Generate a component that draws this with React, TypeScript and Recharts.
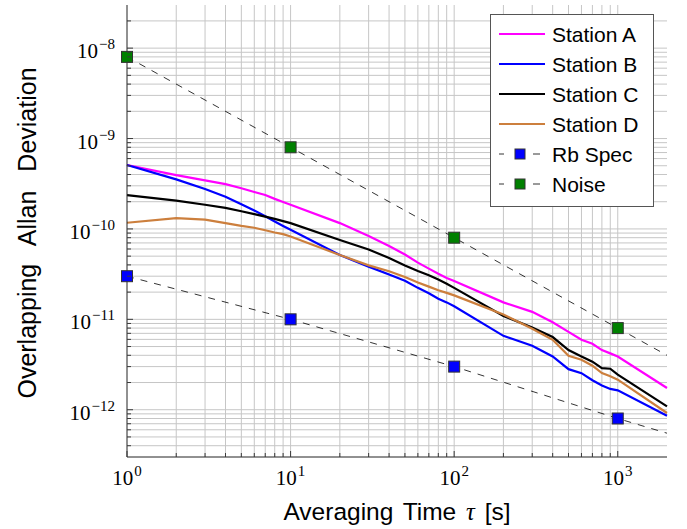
import React from "react";
import { LineChart, Line, XAxis, YAxis, ReferenceLine, Legend } from "recharts";

// averaging times (s) of the station curves
const tau = [1, 2, 3, 4, 5, 6, 7, 8, 9, 10, 20, 30, 40, 50, 60, 70, 80, 90, 100, 200, 300, 400, 500, 600, 700, 800, 900, 1000, 2000];

const stationA = [5.1e-10, 3.94e-10, 3.45e-10, 3.13e-10, 2.82e-10, 2.56e-10, 2.37e-10, 2.15e-10, 1.99e-10, 1.85e-10, 1.16e-10, 8.35e-11, 6.48e-11, 5.22e-11, 4.24e-11, 3.64e-11, 3.19e-11, 2.87e-11, 2.66e-11, 1.54e-11, 1.21e-11, 9.27e-12, 7.26e-12, 5.94e-12, 5.37e-12, 4.57e-12, 4.2e-12, 3.88e-12, 1.74e-12];
const stationB = [5.1e-10, 3.53e-10, 2.76e-10, 2.27e-10, 1.87e-10, 1.6e-10, 1.38e-10, 1.21e-10, 1.08e-10, 9.8e-11, 5.15e-11, 3.83e-11, 3.14e-11, 2.67e-11, 2.23e-11, 1.94e-11, 1.69e-11, 1.54e-11, 1.395e-11, 6.57e-12, 5.1e-12, 3.88e-12, 2.81e-12, 2.54e-12, 2.12e-12, 1.85e-12, 1.7e-12, 1.64e-12, 8.6e-13];
const stationC = [2.37e-10, 2.06e-10, 1.85e-10, 1.71e-10, 1.57e-10, 1.46e-10, 1.37e-10, 1.29e-10, 1.22e-10, 1.16e-10, 7.54e-11, 5.93e-11, 4.77e-11, 3.95e-11, 3.43e-11, 3.08e-11, 2.75e-11, 2.48e-11, 2.23e-11, 1.09e-11, 8.14e-12, 6.37e-12, 4.57e-12, 3.88e-12, 3.4e-12, 2.89e-12, 2.84e-12, 2.44e-12, 1.09e-12];
const stationD = [1.17e-10, 1.32e-10, 1.27e-10, 1.16e-10, 1.08e-10, 1.03e-10, 9.68e-11, 9.13e-11, 8.76e-11, 8.24e-11, 5.15e-11, 3.95e-11, 3.4e-11, 2.94e-11, 2.56e-11, 2.3e-11, 2.1e-11, 1.96e-11, 1.84e-11, 1.13e-11, 7.86e-12, 5.94e-12, 3.95e-12, 3.57e-12, 3.07e-12, 2.54e-12, 2.35e-12, 2.15e-12, 9.2e-13];

// reference lines: marks at the first four points, dashed line runs on to the edge
const refTau = [1, 10, 100, 1000, 2000];
const rbSpec = [3e-11, 1e-11, 3e-12, 8e-13, 5.5e-13];
const noise = [8e-9, 8e-10, 8e-11, 8e-12, 4e-12];
const markedPoints = 4;

const xMajor = [1, 10, 100, 1000];
const xMinor = [2, 3, 4, 5, 6, 7, 8, 9, 20, 30, 40, 50, 60, 70, 80, 90, 200, 300, 400, 500, 600, 700, 800, 900];
const yMajor = [1e-12, 1e-11, 1e-10, 1e-9, 1e-8];
const yMinor = [
  4e-13, 5e-13, 6e-13, 7e-13, 8e-13, 9e-13,
  2e-12, 3e-12, 4e-12, 5e-12, 6e-12, 7e-12, 8e-12, 9e-12,
  2e-11, 3e-11, 4e-11, 5e-11, 6e-11, 7e-11, 8e-11, 9e-11,
  2e-10, 3e-10, 4e-10, 5e-10, 6e-10, 7e-10, 8e-10, 9e-10,
  2e-9, 3e-9, 4e-9, 5e-9, 6e-9, 7e-9, 8e-9, 9e-9,
  2e-8,
];

const toRows = (xs: number[], ys: number[]) => xs.map((t, i) => ({ tau: t, v: ys[i] }));

const stations = [
  { name: "Station A", color: "#ff00ff", values: stationA },
  { name: "Station B", color: "#0000ff", values: stationB },
  { name: "Station C", color: "#000000", values: stationC },
  { name: "Station D", color: "#cc7f3d", values: stationD },
];
const refs = [
  { name: "Rb Spec", fill: "#0000ff", values: rbSpec },
  { name: "Noise", fill: "#008000", values: noise },
];

const GRID = "#c6c6c6";
const TICK = "#3a3a3a";
const SERIF = "'Liberation Serif', 'DejaVu Serif', serif";
const SANS = "'Liberation Sans', Arial, sans-serif";

const isMajor = (v: number) => Math.abs(Math.log10(v) - Math.round(Math.log10(v))) < 1e-6;
const expText = (v: number) => {
  const e = Math.round(Math.log10(v));
  return e < 0 ? "\u2212" + Math.abs(e) : String(e);
};

function BottomTick(props: any) {
  const { x, y, payload } = props;
  const major = isMajor(payload.value);
  return (
    <g>
      <line x1={x} x2={x} y1={y} y2={y - (major ? 6 : 4)} stroke={TICK} />
      {major && (
        <text x={x} y={y + 28} textAnchor="middle" fontFamily={SERIF} fontSize={21} fill="#000">
          10<tspan dx={1} dy={-9} fontSize={15}>{expText(payload.value)}</tspan>
        </text>
      )}
    </g>
  );
}

function TopTick(props: any) {
  const { x, y, payload } = props;
  const major = isMajor(payload.value);
  return <line x1={x} x2={x} y1={y} y2={y + (major ? 6 : 4)} stroke={TICK} />;
}

function LeftTick(props: any) {
  const { x, y, payload } = props;
  const major = isMajor(payload.value);
  return (
    <g>
      <line x1={x} x2={x + (major ? 6 : 4)} y1={y} y2={y} stroke={TICK} />
      {major && (
        <text x={x - 12} y={y + 10} textAnchor="end" fontFamily={SERIF} fontSize={21} fill="#000">
          10<tspan dx={1} dy={-9} fontSize={15}>{expText(payload.value)}</tspan>
        </text>
      )}
    </g>
  );
}

function RightTick(props: any) {
  const { x, y, payload } = props;
  const major = isMajor(payload.value);
  return <line x1={x} x2={x - (major ? 6 : 4)} y1={y} y2={y} stroke={TICK} />;
}

function SquareDot(fill: string) {
  return (props: any) => {
    const { cx, cy, index } = props;
    if (index >= markedPoints || cx == null || cy == null) return <g key={"d" + index} />;
    return <rect key={"d" + index} x={cx - 5.5} y={cy - 5.5} width={11} height={11} fill={fill} stroke="#333" strokeWidth={1} />;
  };
}

function LegendBox() {
  const rowY = (i: number) => 20 + i * 30;
  return (
    <svg width={164} height={193} style={{ display: "block" }}>
      <rect x={0.5} y={0.5} width={163} height={192} fill="#fff" stroke="#555" />
      {stations.map((s, i) => (
        <g key={s.name}>
          <line x1={9} x2={55} y1={rowY(i)} y2={rowY(i)} stroke={s.color} strokeWidth={2.2} />
          <text x={62} y={rowY(i) + 7.5} fontFamily={SANS} fontSize={21} fill="#000">{s.name}</text>
        </g>
      ))}
      {refs.map((r, j) => {
        const y = rowY(stations.length + j);
        return (
          <g key={r.name}>
            <line x1={9} x2={14} y1={y} y2={y} stroke="#000" strokeWidth={0.8} />
            <line x1={43} x2={50} y1={y} y2={y} stroke="#000" strokeWidth={0.8} />
            <rect x={25} y={y - 5} width={10} height={10} fill={r.fill} stroke="#333" />
            <text x={62} y={y + 7.5} fontFamily={SANS} fontSize={21} fill="#000">{r.name}</text>
          </g>
        );
      })}
    </svg>
  );
}

export default function App() {
  const xTicks = [...xMajor, ...xMinor].sort((a, b) => a - b);
  const yTicks = [...yMajor, ...yMinor].sort((a, b) => a - b);
  return (
    <div style={{ position: "absolute", left: 0, top: 0, background: "#fff" }}>
      <LineChart width={687} height={529} margin={{ top: 5, right: 20, bottom: 0, left: 0 }}>
        <XAxis
          xAxisId="b"
          dataKey="tau"
          type="number"
          scale="log"
          domain={[1, 2000]}
          ticks={xTicks}
          interval={0}
          tickSize={0}
          tickMargin={0}
          tick={<BottomTick />}
          axisLine={{ stroke: "#222" }}
          height={72}
          allowDuplicatedCategory={false}
          label={{
            content: (p: any) => {
              const vb = p.viewBox;
              return (
                <text x={vb.x + vb.width / 2} y={vb.y + 63} textAnchor="middle" fontFamily={SANS} fontSize={24.5} wordSpacing={3} fill="#000">
                  Averaging Time <tspan fontFamily={SERIF} fontStyle="italic">τ</tspan> [s]
                </text>
              );
            },
          }}
        />
        <XAxis
          xAxisId="t"
          orientation="top"
          dataKey="tau"
          type="number"
          scale="log"
          domain={[1, 2000]}
          ticks={xTicks}
          interval={0}
          tickSize={0}
          tickMargin={0}
          tick={<TopTick />}
          axisLine={{ stroke: "#222" }}
          height={0}
        />
        <YAxis
          yAxisId="l"
          type="number"
          scale="log"
          domain={[3e-13, 3e-8]}
          ticks={yTicks}
          interval={0}
          tickSize={0}
          tickMargin={0}
          tick={<LeftTick />}
          axisLine={{ stroke: "#222" }}
          width={127}
          label={{
            content: (p: any) => {
              const vb = p.viewBox;
              const cx = 27;
              const cy = vb.y + vb.height / 2 + 2;
              return (
                <text x={cx} y={cy} transform={`rotate(-90 ${cx} ${cy})`} textAnchor="middle" dominantBaseline="central" fontFamily={SANS} fontSize={25} wordSpacing={12} fill="#000">
                  Overlapping Allan Deviation
                </text>
              );
            },
          }}
        />
        <YAxis
          yAxisId="r"
          orientation="right"
          type="number"
          scale="log"
          domain={[3e-13, 3e-8]}
          ticks={yTicks}
          interval={0}
          tickSize={0}
          tickMargin={0}
          tick={<RightTick />}
          axisLine={{ stroke: "#222" }}
          width={0}
        />

        {[...xMajor.slice(1), ...xMinor].map((v) => (
          <ReferenceLine key={"gx" + v} x={v} xAxisId="b" yAxisId="l" stroke={GRID} strokeWidth={1} />
        ))}
        {[...yMajor, ...yMinor].map((v) => (
          <ReferenceLine key={"gy" + v} y={v} xAxisId="b" yAxisId="l" stroke={GRID} strokeWidth={1} />
        ))}

        {refs.map((r) => (
          <Line
            key={r.name}
            xAxisId="b"
            yAxisId="l"
            data={toRows(refTau, r.values)}
            dataKey="v"
            name={r.name}
            type="linear"
            stroke="#000"
            strokeWidth={0.8}
            strokeDasharray="7 7"
            dot={SquareDot(r.fill)}
            activeDot={false}
            isAnimationActive={false}
          />
        ))}
        {stations.map((s) => (
          <Line
            key={s.name}
            xAxisId="b"
            yAxisId="l"
            data={toRows(tau, s.values)}
            dataKey="v"
            name={s.name}
            type="linear"
            stroke={s.color}
            strokeWidth={2.2}
            dot={false}
            activeDot={false}
            isAnimationActive={false}
          />
        ))}

        <Legend
          layout="vertical"
          align="center"
          verticalAlign="middle"
          content={() => <LegendBox />}
          wrapperStyle={{ left: 490, top: 14, width: 164, height: 193 }}
        />
      </LineChart>
    </div>
  );
}
